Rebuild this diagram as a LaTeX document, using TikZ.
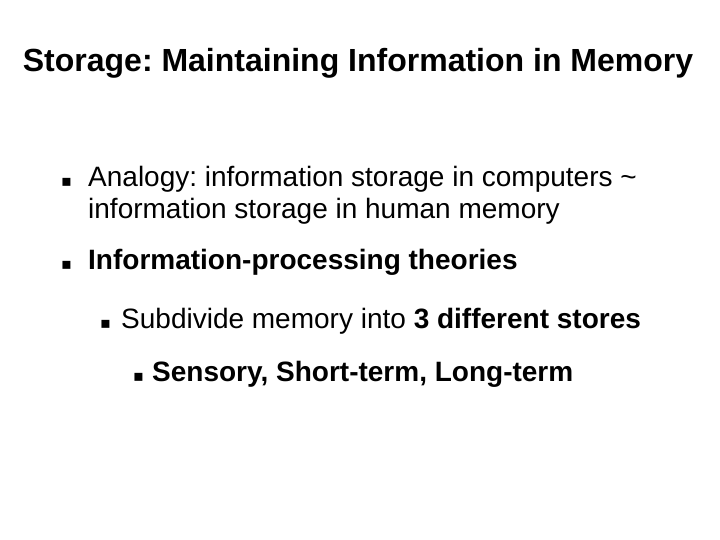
\documentclass[tikz,border=0pt]{standalone}
\usepackage{fontspec}
\setmainfont{Liberation Sans}
\newfontfamily\dejavu{DejaVu Sans}
\begin{document}
\frenchspacing
\begin{tikzpicture}[x=1bp,y=-1bp,
  txt/.style={anchor=base west,inner sep=0pt,font=\fontsize{28bp}{32bp}\selectfont},
  btxt/.style={txt,font=\bfseries\fontsize{28bp}{32bp}\selectfont},
  blt/.style={anchor=base west,inner sep=0pt,font=\dejavu\fontsize{16bp}{20bp}\selectfont}]
\useasboundingbox (0,0) rectangle (720,540);
\node[anchor=base,inner sep=0pt,font=\bfseries\fontsize{32bp}{36bp}\selectfont] (title) at (358,72) {Storage: Maintaining Information in Memory};
\node[blt] (b1) at (61,187) {▪};
\node[txt] (t1) at (88,187) {Analogy: information storage in computers \textasciitilde};
\node[txt] (t2) at (88,219) {information storage in human memory};
\node[blt] (b2) at (61,270) {▪};
\node[btxt] (t3) at (88,270) {Information-processing theories};
\node[blt] (b3) at (100,328) {▪};
\node[txt] (t4) at (121,328) {Subdivide memory into \textbf{3 different stores}};
\node[blt] (b4) at (133,381) {▪};
\node[btxt] (t5) at (152,381) {Sensory, Short-term, Long-term};
\end{tikzpicture}
\end{document}
